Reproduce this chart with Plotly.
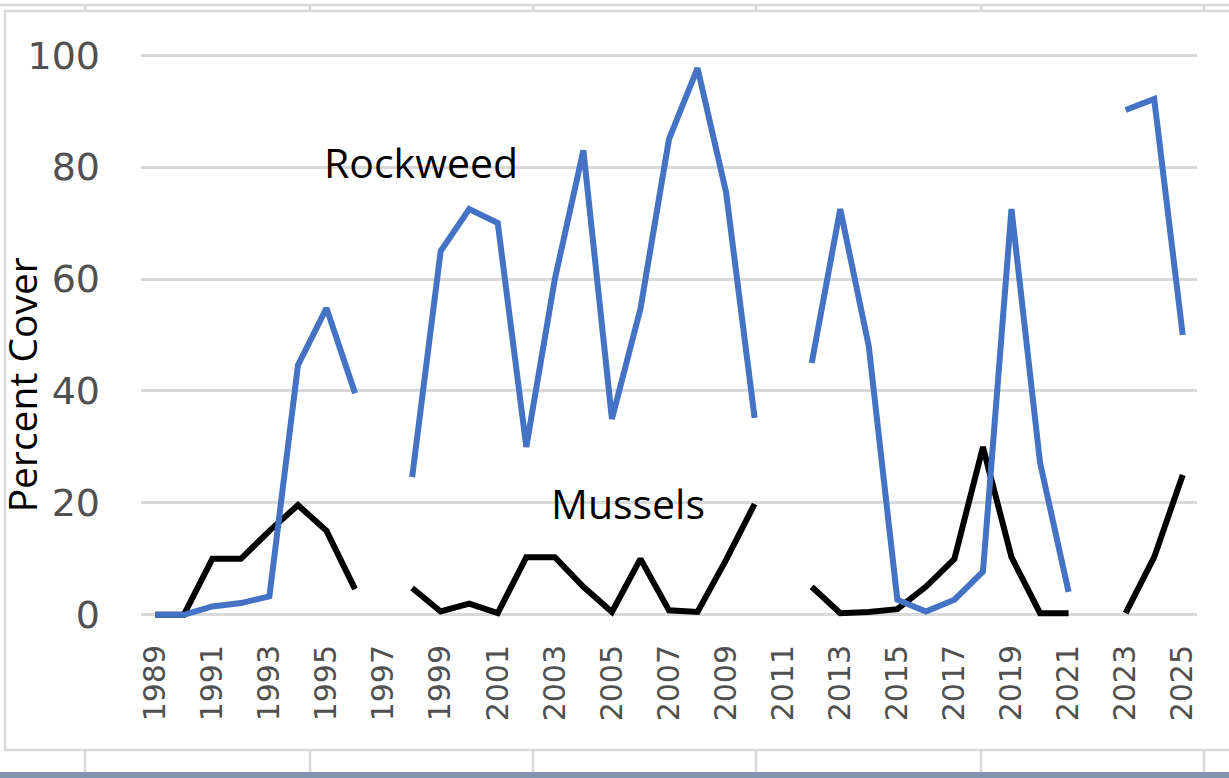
import plotly.graph_objects as go

# Survey years and percent cover per species (None = not surveyed)
years = list(range(1989, 2026))
rockweed = [0, 0, 1.5, 2.1, 3.3, 44.6, 54.8, 39.6, None, 24.6,
            65, 72.5, 70, 30, 60, 83, 35, 54.7, 85, 97.7,
            75.5, 35.2, None, 45, 72.5, 48, 2.7, 0.6, 2.7, 7.7,
            72.5, 27.2, 4.1, None, 90.2, 92.2, 50]
mussels = [0, 0, 10, 10, 15, 19.6, 15, 4.6, None, 4.8,
           0.6, 2, 0.3, 10.3, 10.3, 5, 0.5, 10, 0.8, 0.5,
           9.8, 19.8, None, 5, 0.3, 0.5, 1, 5, 10, 30,
           10.3, 0.3, 0.3, None, 0.3, 10.3, 25]
tick_years = list(range(1989, 2026, 2))
tick_text = [str(y) for y in tick_years]

W, H = 1229, 778
ML, MR, MT, MB = 141, 32, 44, 152
PW, PH = W - ML - MR, H - MT - MB


def px(x):
    return (x - ML) / PW


def py(y):
    return (H - MB - y) / PH


fig = go.Figure()
fig.add_trace(go.Scatter(x=years, y=mussels, mode="lines", name="Mussels",
                         line=dict(color="#000000", width=6), connectgaps=False))
fig.add_trace(go.Scatter(x=years, y=rockweed, mode="lines", name="Rockweed",
                         line=dict(color="#4472C4", width=6), connectgaps=False))

label_font = dict(family="Open Sans", size=41, color="#000000")
fig.add_annotation(x=1998.3, y=80.9, text="Rockweed", showarrow=False,
                   xanchor="center", yanchor="middle", font=label_font)
fig.add_annotation(x=2005.56, y=20, text="Mussels", showarrow=False,
                   xanchor="center", yanchor="middle", font=label_font)
fig.add_annotation(xref="paper", x=px(21), y=41, text="Percent Cover",
                   showarrow=False, textangle=-90, xanchor="center",
                   yanchor="middle", font=dict(family="Open Sans", size=39,
                                               color="#000000"))

frame = "#D9D9D9"
shapes = []
# chart area border
shapes.append(dict(type="rect", xref="paper", yref="paper",
                   x0=px(5), x1=px(1240), y0=py(750), y1=py(11),
                   line=dict(color=frame, width=2.5), layer="below"))
# surrounding table rules
shapes.append(dict(type="line", xref="paper", yref="paper",
                   x0=px(0), x1=px(1229), y0=py(5), y1=py(5),
                   line=dict(color=frame, width=2.5), layer="below"))
for cx in [85, 310, 533, 756, 981, 1204]:
    shapes.append(dict(type="line", xref="paper", yref="paper",
                       x0=px(cx), x1=px(cx), y0=py(5), y1=py(11),
                       line=dict(color=frame, width=2.5), layer="below"))
    shapes.append(dict(type="line", xref="paper", yref="paper",
                       x0=px(cx), x1=px(cx), y0=py(750), y1=py(772),
                       line=dict(color=frame, width=2.5), layer="below"))
shapes.append(dict(type="rect", xref="paper", yref="paper",
                   x0=px(0), x1=px(1229), y0=py(778), y1=py(772),
                   fillcolor="#8195AF", line=dict(width=0), layer="below"))

tick_font = dict(family="DejaVu Sans", color="#505050")
fig.update_layout(
    width=W, height=H, autosize=False,
    margin=dict(l=ML, r=MR, t=MT, b=MB),
    paper_bgcolor="#FFFFFF", plot_bgcolor="#FFFFFF",
    showlegend=False,
    shapes=shapes,
    xaxis=dict(range=[1988.5, 2025.5], tickmode="array", tickvals=tick_years,
               ticktext=tick_text, tickangle=-90, showgrid=False,
               zeroline=False, showline=False, ticks="",
               ticklabelstandoff=12, tickfont=dict(size=30, **tick_font)),
    yaxis=dict(range=[-2, 102], tickmode="array", tickvals=[0, 20, 40, 60, 80, 100],
               showgrid=True, gridcolor=frame, gridwidth=2.5, zeroline=False,
               showline=False, ticks="", ticklabelstandoff=40,
               tickfont=dict(size=38, **tick_font)),
)

fig.write_html("out.html")
